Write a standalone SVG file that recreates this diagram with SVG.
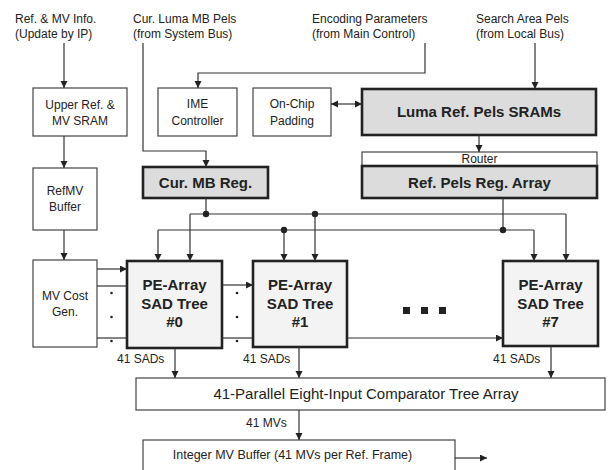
<svg xmlns="http://www.w3.org/2000/svg" width="610" height="470" viewBox="0 0 610 470">
<defs>
<marker id="ah" markerWidth="8" markerHeight="8" refX="7" refY="3.5" orient="auto-start-reverse" markerUnits="userSpaceOnUse">
<path d="M0,0 L7,3.5 L0,7 z" fill="#222"/>
</marker>
<style>
text{font-family:"Liberation Sans",Arial,sans-serif;fill:#222}
.t12{font-size:12px}
.t125{font-size:12.5px}
.t15{font-size:15px}
.b15{font-size:15px;font-weight:bold}
.m{text-anchor:middle}
.thin{fill:#fff;stroke:#444;stroke-width:1.2}
.thick{stroke:#222;stroke-width:2.6}
.gray{fill:#dcdcdc}
.light{fill:#f3f3f3}
.c{fill:none;stroke:#333;stroke-width:1.2}
.a{marker-end:url(#ah)}
.dot{fill:#222}
</style>
</defs>
<rect width="610" height="470" fill="#fff"/>

<g id="inputs">
<text class="t12" x="15" y="23">Ref. &amp; MV Info.</text>
<text class="t12" x="15" y="38">(Update by IP)</text>
<text class="t12" x="133" y="23">Cur. Luma MB Pels</text>
<text class="t12" x="133" y="38">(from System Bus)</text>
<text class="t12" x="312" y="23">Encoding Parameters</text>
<text class="t12" x="312" y="38">(from Main Control)</text>
<text class="t12" x="476" y="23">Search Area Pels</text>
<text class="t12" x="476" y="38">(from Local Bus)</text>
</g>

<g id="upper-ref">
<rect class="thin" x="33" y="88" width="94" height="48"/>
<text class="t12 m" x="80" y="109">Upper Ref. &amp;</text>
<text class="t12 m" x="80" y="125">MV SRAM</text>
</g>
<g id="refmv-buffer">
<rect class="thin" x="33" y="168" width="64" height="62"/>
<text class="t12 m" x="65" y="195">RefMV</text>
<text class="t12 m" x="65" y="211">Buffer</text>
</g>
<g id="mv-cost">
<rect class="thin" x="33" y="260" width="64" height="87"/>
<text class="t12 m" x="65" y="300">MV Cost</text>
<text class="t12 m" x="65" y="316">Gen.</text>
</g>
<g id="ime">
<rect class="thin" x="158" y="88" width="79" height="48"/>
<text class="t12 m" x="197.5" y="108">IME</text>
<text class="t12 m" x="197.5" y="125">Controller</text>
</g>
<g id="padding">
<rect class="thin" x="253" y="88" width="78" height="48"/>
<text class="t12 m" x="292" y="108">On-Chip</text>
<text class="t12 m" x="292" y="125">Padding</text>
</g>
<g id="luma-sram">
<rect class="thick gray" x="362" y="89" width="234" height="46"/>
<text class="b15 m" x="479" y="117">Luma Ref. Pels SRAMs</text>
</g>
<g id="router">
<rect class="thin" x="362" y="152" width="235" height="14"/>
<text class="t12 m" x="479.5" y="163">Router</text>
</g>
<g id="ref-pels-reg">
<rect class="thick gray" x="362" y="166" width="235" height="32"/>
<text class="b15 m" x="479.5" y="188">Ref. Pels Reg. Array</text>
</g>
<g id="cur-mb-reg">
<rect class="thick gray" x="143" y="167" width="125" height="31"/>
<text class="b15 m" x="205.5" y="188">Cur. MB Reg.</text>
</g>
<g id="pe0">
<rect class="thick light" x="127" y="261" width="95" height="87"/>
<text class="b15 m" x="174.5" y="290">PE-Array</text>
<text class="b15 m" x="174.5" y="308.5">SAD Tree</text>
<text class="b15 m" x="174.5" y="327">#0</text>
</g>
<g id="pe1">
<rect class="thick light" x="253" y="261" width="94" height="86"/>
<text class="b15 m" x="300" y="290">PE-Array</text>
<text class="b15 m" x="300" y="308.5">SAD Tree</text>
<text class="b15 m" x="300" y="327">#1</text>
</g>
<g id="ellipsis">
<rect x="403" y="307" width="7" height="7" fill="#222"/>
<rect x="421" y="307" width="7" height="7" fill="#222"/>
<rect x="439" y="307" width="7" height="7" fill="#222"/>
</g>
<g id="pe7">
<rect class="thick light" x="503" y="261" width="95" height="85"/>
<text class="b15 m" x="550.5" y="290">PE-Array</text>
<text class="b15 m" x="550.5" y="308.5">SAD Tree</text>
<text class="b15 m" x="550.5" y="327">#7</text>
</g>
<g id="comparator">
<rect class="thin" x="136" y="378" width="469" height="32"/>
<text class="t15 m" x="366" y="399">41-Parallel Eight-Input Comparator Tree Array</text>
</g>
<g id="int-mv-buffer">
<rect class="thin" x="143" y="440" width="312" height="40"/>
<text class="t125 m" x="292.5" y="459">Integer MV Buffer (41 MVs per Ref. Frame)</text>
</g>

<g id="connectors">
<path class="c a" d="M64,43 V88"/>
<path class="c a" d="M64,136 V168"/>
<path class="c a" d="M64,230 V260"/>
<path class="c a" d="M143,43 V151 H206 V167"/>
<path class="c a" d="M425,43 V73 H198 V88"/>
<path class="c a" d="M535,43 V89"/>
<path class="c a" d="M331,104 H362" marker-start="url(#ah)"/>
<path class="c a" d="M479,135 V152"/>
<path class="c" d="M206,198 V214"/>
<path class="c a" d="M190,214 V261"/>
<path class="c" d="M190,214 H566"/>
<path class="c a" d="M566,214 V261"/>
<path class="c a" d="M315,214 V261"/>
<circle class="dot" cx="206" cy="214" r="3.2"/>
<circle class="dot" cx="315" cy="214" r="3.2"/>
<path class="c" d="M503,198 V230"/>
<path class="c a" d="M158,230 V261"/>
<path class="c" d="M158,230 H534"/>
<path class="c a" d="M534,230 V261"/>
<path class="c a" d="M284,230 V261"/>
<circle class="dot" cx="284" cy="230" r="3.2"/>
<circle class="dot" cx="503" cy="230" r="3.2"/>
<path class="c a" d="M97,269 H127"/>
<path class="c" d="M97,286 H127"/>
<path class="c" d="M97,338 H127"/>
<circle class="dot" cx="111.5" cy="293" r="1.3"/>
<circle class="dot" cx="111.5" cy="317" r="1.3"/>
<circle class="dot" cx="111.5" cy="341" r="1.3"/>
<path class="c a" d="M222,285 H253"/>
<path class="c" d="M222,338 H253"/>
<circle class="dot" cx="237" cy="293" r="1.3"/>
<circle class="dot" cx="237" cy="317" r="1.3"/>
<circle class="dot" cx="237" cy="341" r="1.3"/>
<path class="c a" d="M347,338 H503"/>
<path class="c a" d="M175,348 V378"/>
<path class="c a" d="M299,347 V378"/>
<path class="c a" d="M551,346 V378"/>
<path class="c a" d="M299,410 V440"/>
<path class="c a" d="M455,458 H487"/>
<text class="t12" x="117" y="363">41 SADs</text>
<text class="t12" x="243" y="363">41 SADs</text>
<text class="t12" x="493" y="363">41 SADs</text>
<text class="t12" x="246" y="427">41 MVs</text>
</g>
</svg>
